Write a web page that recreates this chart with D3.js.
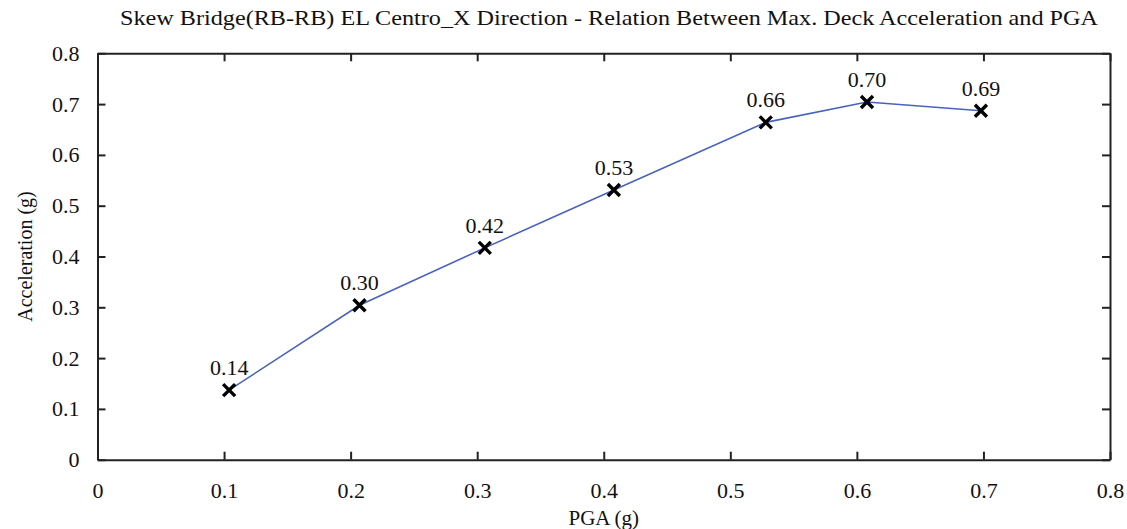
<!DOCTYPE html>
<html>
<head>
<meta charset="utf-8">
<script src="https://cdn.jsdelivr.net/npm/d3@7"></script>
<style>
  html, body { margin: 0; padding: 0; background: #fff; }
  svg text { font-family: "Liberation Serif", "Times New Roman", serif; fill: #111; }
</style>
</head>
<body>
<svg id="chart" width="1127" height="529"></svg>
<script>
// PGA (g) for each run and the corresponding peak deck acceleration (g)
const pga = [0.104, 0.207, 0.306, 0.408, 0.528, 0.608, 0.698];
const accel = [0.137, 0.304, 0.417, 0.531, 0.664, 0.704, 0.687];
const xTicks = [0, 0.1, 0.2, 0.3, 0.4, 0.5, 0.6, 0.7, 0.8];
const yTicks = [0, 0.1, 0.2, 0.3, 0.4, 0.5, 0.6, 0.7, 0.8];

const titleText = "Skew Bridge(RB-RB) EL Centro_X Direction - Relation Between Max. Deck Acceleration and PGA";
const xTitle = "PGA (g)";
const yTitle = "Acceleration (g)";

const svg = d3.select("#chart");
const W = 1127, H = 529;
const margin = { left: 97.5, right: W - 1110, top: 53.3, bottom: H - 459.7 };

const x = d3.scaleLinear().domain([0, 0.8]).range([margin.left, W - margin.right]);
const y = d3.scaleLinear().domain([0, 0.8]).range([H - margin.bottom, margin.top]);

const tickLen = 8;
const fmt = d => d === 0 ? "0" : d3.format(".1f")(d);

// Bottom axis with inward ticks
const gB = svg.append("g").attr("transform", `translate(0,${y(0)})`)
  .call(d3.axisBottom(x).tickValues(xTicks).tickFormat(fmt).tickSizeInner(-tickLen).tickSizeOuter(0).tickPadding(23));
// Left axis with inward ticks
const gL = svg.append("g").attr("transform", `translate(${x(0)},0)`)
  .call(d3.axisLeft(y).tickValues(yTicks).tickFormat(fmt).tickSizeInner(-tickLen).tickSizeOuter(0).tickPadding(18));
// Top and right mirror axes (ticks only)
const gT = svg.append("g").attr("transform", `translate(0,${y(0.8)})`)
  .call(d3.axisTop(x).tickValues(xTicks).tickFormat("").tickSizeInner(-tickLen).tickSizeOuter(0));
const gR = svg.append("g").attr("transform", `translate(${x(0.8)},0)`)
  .call(d3.axisRight(y).tickValues(yTicks).tickFormat("").tickSizeInner(-tickLen).tickSizeOuter(0));

[gB, gL, gT, gR].forEach(g => {
  g.select(".domain").attr("stroke", "#222").attr("stroke-width", 2);
  g.selectAll(".tick line").attr("stroke", "#222").attr("stroke-width", 2);
  g.selectAll(".tick text").attr("font-size", 22).attr("font-family", "Liberation Serif, serif").attr("fill", "#111");
});

// Connecting line
const line = d3.line().x((d, i) => x(pga[i])).y(d => y(d));
svg.append("path")
  .datum(accel)
  .attr("d", line)
  .attr("fill", "none")
  .attr("stroke", "#4a63b9")
  .attr("stroke-width", 1.6);

// X markers
const s = 6;
const marks = svg.append("g");
accel.forEach((v, i) => {
  const cx = x(pga[i]), cy = y(v);
  marks.append("path")
    .attr("d", `M${cx - s},${cy - s}L${cx + s},${cy + s}M${cx - s},${cy + s}L${cx + s},${cy - s}`)
    .attr("stroke", "#000")
    .attr("stroke-width", 3.4)
    .attr("fill", "none");
});

// Value labels above each marker
svg.append("g").selectAll("text")
  .data(accel)
  .join("text")
  .attr("x", (d, i) => x(pga[i]))
  .attr("y", d => y(d) - 15)
  .attr("text-anchor", "middle")
  .attr("font-size", 22)
  .text(d => d.toFixed(2));

// Title
svg.append("text")
  .attr("x", 609).attr("y", 25)
  .attr("text-anchor", "middle")
  .attr("font-size", 22)
  .attr("textLength", 978)
  .attr("lengthAdjust", "spacingAndGlyphs")
  .text(titleText);

// Axis titles
svg.append("text")
  .attr("x", x(0.4)).attr("y", 525)
  .attr("text-anchor", "middle")
  .attr("font-size", 21)
  .text(xTitle);

svg.append("text")
  .attr("transform", `translate(32,${y(0.4)}) rotate(-90)`)
  .attr("text-anchor", "middle")
  .attr("font-size", 20)
  .text(yTitle);
</script>
</body>
</html>
